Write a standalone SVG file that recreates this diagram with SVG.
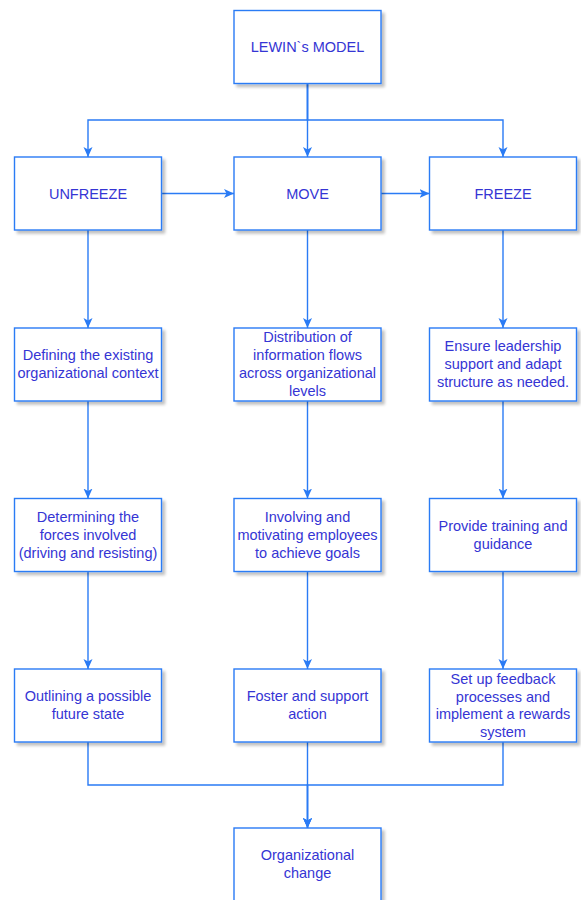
<svg xmlns="http://www.w3.org/2000/svg" width="581" height="900" viewBox="0 0 581 900">
<defs>
<filter id="sh" x="-10%" y="-10%" width="130%" height="130%">
<feGaussianBlur in="SourceAlpha" stdDeviation="1.5"/>
<feOffset dx="3" dy="3" result="b"/>
<feComponentTransfer><feFuncA type="linear" slope="0.25"/></feComponentTransfer>
<feMerge><feMergeNode/><feMergeNode in="SourceGraphic"/></feMerge>
</filter>
<marker id="arr" viewBox="0 0 10 10" refX="10" refY="5" markerWidth="10" markerHeight="10" markerUnits="userSpaceOnUse" orient="auto">
<path d="M0,0.5 L10,5 L0,9.5 L2.5,5 z" fill="#2a7bf5"/>
</marker>
</defs>
<style>
.box{fill:#ffffff;stroke:#2a7bf5;stroke-width:1.4;filter:url(#sh)}
.t{font-family:"Liberation Sans",Arial,sans-serif;font-size:14.5px;fill:#3535d4;text-anchor:middle}
.c{fill:none;stroke:#2a7bf5;stroke-width:1.4}
.a{marker-end:url(#arr)}
</style>
<rect width="581" height="900" fill="#ffffff"/>
<g id="connectors">
<path class="c a" d="M307.5,83.5 V120 H88 V157"/>
<path class="c a" d="M307.5,83.5 V120 H503 V157"/>
<path class="c a" d="M307.5,83.5 V157"/>
<path class="c a" d="M161.5,193.5 H234"/>
<path class="c a" d="M381,193.5 H429.5"/>
<path class="c a" d="M88,230 V328"/>
<path class="c a" d="M307.5,230 V328"/>
<path class="c a" d="M503,230 V328"/>
<path class="c a" d="M88,401 V498.5"/>
<path class="c a" d="M307.5,401 V498.5"/>
<path class="c a" d="M503,401 V498.5"/>
<path class="c a" d="M88,571.5 V669"/>
<path class="c a" d="M307.5,571.5 V669"/>
<path class="c a" d="M503,571.5 V669"/>
<path class="c a" d="M88,742 V785 H307.5 V828"/>
<path class="c a" d="M503,742 V785 H307.5 V828"/>
<path class="c a" d="M307.5,742 V828"/>
</g>
<g id="lewin"><rect class="box" x="234" y="10.5" width="147" height="73"/><text class="t" x="307.5" y="52">LEWIN`s MODEL</text></g>
<g id="unfreeze"><rect class="box" x="14.5" y="157" width="147" height="73"/><text class="t" x="88" y="198.5">UNFREEZE</text></g>
<g id="move"><rect class="box" x="234" y="157" width="147" height="73"/><text class="t" x="307.5" y="198.5">MOVE</text></g>
<g id="freeze"><rect class="box" x="429.5" y="157" width="147" height="73"/><text class="t" x="503" y="198.5">FREEZE</text></g>
<g id="u1"><rect class="box" x="14.5" y="328" width="147" height="73"/><text class="t" x="88" y="360">Defining the existing</text><text class="t" x="88" y="378.3">organizational context</text></g>
<g id="m1"><rect class="box" x="234" y="328" width="147" height="73"/><text class="t" x="307.5" y="342">Distribution of</text><text class="t" x="307.5" y="360">information flows</text><text class="t" x="307.5" y="378">across organizational</text><text class="t" x="307.5" y="396">levels</text></g>
<g id="f1"><rect class="box" x="429.5" y="328" width="147" height="73"/><text class="t" x="503" y="351">Ensure leadership</text><text class="t" x="503" y="369">support and adapt</text><text class="t" x="503" y="387">structure as needed.</text></g>
<g id="u2"><rect class="box" x="14.5" y="498.5" width="147" height="73"/><text class="t" x="88" y="522">Determining the</text><text class="t" x="88" y="540">forces involved</text><text class="t" x="88" y="558">(driving and resisting)</text></g>
<g id="m2"><rect class="box" x="234" y="498.5" width="147" height="73"/><text class="t" x="307.5" y="522">Involving and</text><text class="t" x="307.5" y="540">motivating employees</text><text class="t" x="307.5" y="558">to achieve goals</text></g>
<g id="f2"><rect class="box" x="429.5" y="498.5" width="147" height="73"/><text class="t" x="503" y="531">Provide training and</text><text class="t" x="503" y="549">guidance</text></g>
<g id="u3"><rect class="box" x="14.5" y="669" width="147" height="73"/><text class="t" x="88" y="701">Outlining a possible</text><text class="t" x="88" y="719.3">future state</text></g>
<g id="m3"><rect class="box" x="234" y="669" width="147" height="73"/><text class="t" x="307.5" y="701">Foster and support</text><text class="t" x="307.5" y="719.3">action</text></g>
<g id="f3"><rect class="box" x="429.5" y="669" width="147" height="73"/><text class="t" x="503" y="684">Set up feedback</text><text class="t" x="503" y="701.5">processes and</text><text class="t" x="503" y="719">implement a rewards</text><text class="t" x="503" y="736.5">system</text></g>
<g id="orgchange"><rect class="box" x="234" y="828" width="147" height="73"/><text class="t" x="307.5" y="860">Organizational</text><text class="t" x="307.5" y="878.3">change</text></g>
</svg>
